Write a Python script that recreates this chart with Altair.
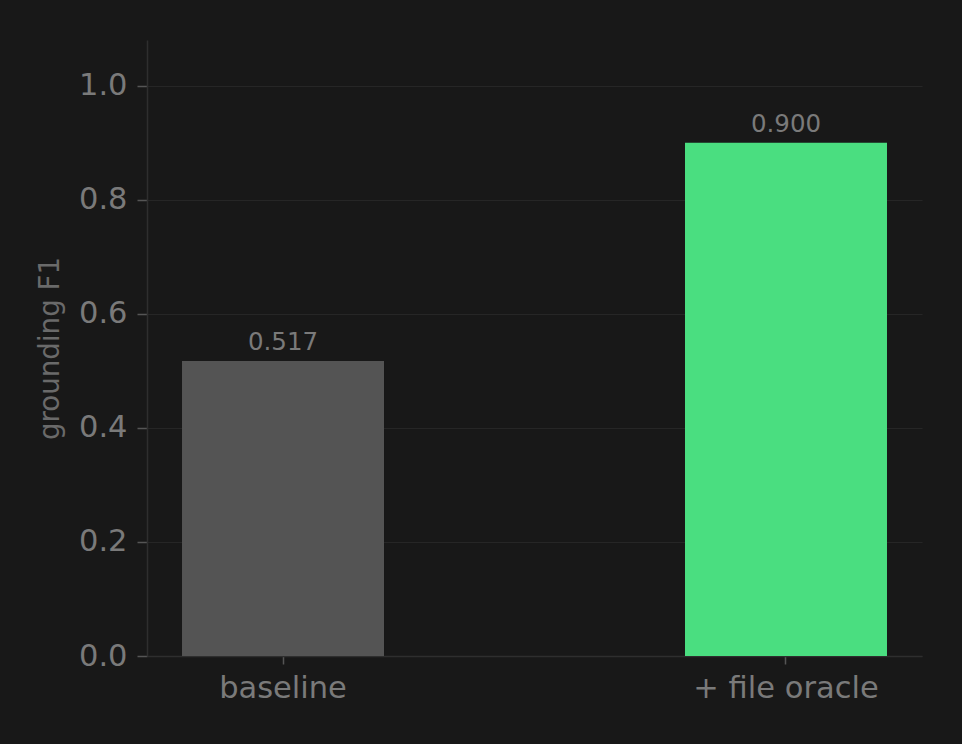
import altair as alt
import pandas as pd
import jinja2

categories = ["baseline", "+ file oracle"]
scores = [0.517, 0.900]
bar_colors = ["#545454", "#4ade80"]
label_texts = ["0.517", "0.900"]
y_ticks = [0.0, 0.2, 0.4, 0.6, 0.8, 1.0]

BG = "#181818"
FONT = "DejaVu Sans"

df = pd.DataFrame({
    "method": categories,
    "score": scores,
    "color": bar_colors,
    "label": label_texts,
})

x_enc = alt.X(
    "method:N",
    sort=categories,
    scale=alt.Scale(paddingInner=0.5984, paddingOuter=0.0696),
    axis=alt.Axis(
        title=None,
        labelAngle=0,
        labelFontSize=30.5,
        labelColor="#7a7a7a",
        labelFont=FONT,
        labelPadding=9,
        labelLimit=0,
        tickColor="#555555",
        tickSize=8,
        tickWidth=1.5,
        domainColor="#2e2e2e",
        domainWidth=1.5,
        grid=False,
    ),
)

y_enc = alt.Y(
    "score:Q",
    scale=alt.Scale(domain=[0, 1.08], nice=False, zero=True),
    axis=alt.Axis(
        title="grounding F1",
        titleFontSize=27.7,
        titleFont=FONT,
        titleFontWeight="normal",
        titleColor="#6a6a6a",
        titlePadding=14,
        values=y_ticks,
        format=".1f",
        labelFontSize=30.5,
        labelColor="#7a7a7a",
        labelFont=FONT,
        labelPadding=10,
        tickColor="#555555",
        tickSize=10,
        tickWidth=1.5,
        domainColor="#2e2e2e",
        domainWidth=1.5,
        gridColor="#262626",
        gridWidth=1.2,
    ),
)

bars = alt.Chart(df).mark_bar().encode(
    x=x_enc,
    y=y_enc,
    color=alt.Color("color:N", scale=None),
)

labels = alt.Chart(df).mark_text(
    baseline="bottom",
    dy=-6,
    fontSize=24.5,
    font=FONT,
    color="#7a7a7a",
).encode(
    x=alt.X("method:N", sort=categories),
    y=alt.Y("score:Q"),
    text="label:N",
)

chart = (
    alt.layer(bars, labels)
    .properties(
        width=775,
        height=616,
        background=BG,
        autosize=alt.AutoSizeParams(type="none"),
        padding={"left": 139, "top": 32, "right": 32, "bottom": 80},
    )
    .configure_view(stroke=None)
)

page_template = jinja2.Template(
    """<!DOCTYPE html>
<html>
<head>
  <meta charset="utf-8">
  <style>
    body { margin: 8px; background: """ + BG + """; }
    #{{ output_div }}.vega-embed { width: 100%; display: flex; }
  </style>
  <script type="text/javascript" src="{{ base_url }}/vega@{{ vega_version }}"></script>
  <script type="text/javascript" src="{{ base_url }}/vega-lite@{{ vegalite_version }}"></script>
  <script type="text/javascript" src="{{ base_url }}/vega-embed@{{ vegaembed_version }}"></script>
</head>
<body>
  <div id="{{ output_div }}"></div>
  <script type="text/javascript">
    vegaEmbed("#{{ output_div }}", {{ spec }}, {{ embed_options }}).catch(console.error);
  </script>
</body>
</html>
"""
)

chart.save(
    "out.html",
    embed_options={"renderer": "svg", "actions": False},
    template=page_template,
)
